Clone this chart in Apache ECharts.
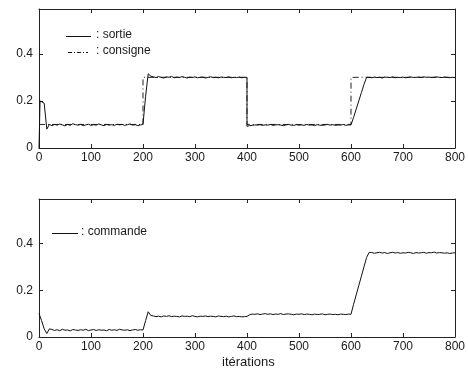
<!DOCTYPE html>
<html><head><meta charset="utf-8">
<script src="https://cdn.jsdelivr.net/npm/echarts@6/dist/echarts.min.js"></script>
<style>html,body{margin:0;padding:0;background:#fff}#c{width:468px;height:374px}</style>
</head><body><div id="c"></div>
<script>
const iterations = [0,5,10,15,20,25,30,35,40,45,50,55,60,65,70,75,80,85,90,95,100,105,110,115,120,125,130,135,140,145,150,155,160,165,170,175,180,185,190,195,200,205,210,215,220,225,230,235,240,245,250,255,260,265,270,275,280,285,290,295,300,305,310,315,320,325,330,335,340,345,350,355,360,365,370,375,380,385,390,395,400,405,410,415,420,425,430,435,440,445,450,455,460,465,470,475,480,485,490,495,500,505,510,515,520,525,530,535,540,545,550,555,560,565,570,575,580,585,590,595,600,605,610,615,620,625,630,635,640,645,650,655,660,665,670,675,680,685,690,695,700,705,710,715,720,725,730,735,740,745,750,755,760,765,770,775,780,785,790,795,800];
// sortie is sampled on the same iterations, plus two extra samples (at 2 and a second one at 400)
const sortieIter = [0,2,5,10,15,20,25,30,35,40,45,50,55,60,65,70,75,80,85,90,95,100,105,110,115,120,125,130,135,140,145,150,155,160,165,170,175,180,185,190,195,200,205,210,215,220,225,230,235,240,245,250,255,260,265,270,275,280,285,290,295,300,305,310,315,320,325,330,335,340,345,350,355,360,365,370,375,380,385,390,395,400,400,405,410,415,420,425,430,435,440,445,450,455,460,465,470,475,480,485,490,495,500,505,510,515,520,525,530,535,540,545,550,555,560,565,570,575,580,585,590,595,600,605,610,615,620,625,630,635,640,645,650,655,660,665,670,675,680,685,690,695,700,705,710,715,720,725,730,735,740,745,750,755,760,765,770,775,780,785,790,795,800];
const sortie = [0,0.2,0.205,0.19,0.08,0.1,
0.095,0.1,0.097,0.102,0.098,0.094,0.1,0.096,0.103,0.099,0.097,0.1,0.095,0.098,0.101,0.096,0.099,0.097,0.102,0.098,0.095,0.1,0.097,0.099,0.096,0.101,0.098,0.1,0.096,0.099,0.102,0.097,0.099,0.095,0.098,
0.1,0.22,0.315,
0.305,0.302,0.299,0.303,0.3,0.297,0.302,0.3,0.304,0.298,0.301,0.299,0.303,0.3,0.297,0.301,0.299,0.302,0.298,0.3,0.301,0.297,0.3,0.302,0.299,0.3,0.298,0.301,0.3,0.299,0.302,0.298,0.3,0.299,0.301,0.298,0.3,
0.3,0.092,0.095,
0.096,0.098,0.097,0.099,0.096,0.098,0.097,0.1,0.096,0.098,0.099,0.097,0.095,0.098,0.1,0.097,0.096,0.099,0.097,0.098,0.096,0.1,0.097,0.098,0.095,0.099,0.097,0.096,0.098,0.1,0.097,0.099,0.096,0.098,0.097,0.1,0.096,0.098,
0.098,0.13,0.165,0.2,0.235,0.27,0.3,
0.3,0.298,0.301,0.299,0.3,0.297,0.301,0.3,0.299,0.302,0.298,0.3,0.299,0.301,0.298,0.3,0.302,0.299,0.3,0.301,0.299,0.302,0.3,0.301,0.299,0.3,0.302,0.3,0.299,0.301,0.3,0.298,0.3,0.299];
const consigneIter = [0,200,200,400,400,600,600,800];
const consigne = [0.1,0.1,0.3,0.3,0.1,0.1,0.3,0.3];
const commande = [0.1,0.07,0.035,0.015,0.035,
0.032,0.028,0.031,0.027,0.033,0.029,0.03,0.026,0.032,0.03,0.028,0.031,0.029,0.033,0.027,0.03,0.032,0.028,0.031,0.029,0.03,0.027,0.032,0.029,0.031,0.028,0.033,0.03,0.029,0.031,0.027,0.03,0.032,0.029,0.031,
0.03,0.07,0.108,
0.092,
0.09,0.087,0.089,0.086,0.09,0.088,0.091,0.087,0.089,0.088,0.086,0.09,0.088,0.089,0.087,0.091,0.088,0.086,0.089,0.088,0.09,0.087,0.089,0.088,0.086,0.09,0.088,0.087,0.089,0.086,0.088,0.09,0.087,0.088,0.086,0.087,
0.088,
0.095,0.098,0.097,0.099,0.096,0.098,0.1,0.097,0.099,0.096,0.098,0.097,0.1,0.096,0.098,0.099,0.097,0.095,0.098,0.097,0.099,0.096,0.098,0.097,0.095,0.098,0.096,0.097,0.099,0.095,0.097,0.098,0.096,0.097,0.095,0.098,0.097,0.096,0.098,
0.097,
0.14,0.18,0.22,0.26,0.3,0.34,
0.362,
0.361,0.358,0.36,0.362,0.359,0.361,0.357,0.36,0.362,0.359,0.361,0.358,0.36,0.359,0.362,0.36,0.357,0.361,0.359,0.36,0.362,0.358,0.361,0.36,0.363,0.359,0.361,0.36,0.358,0.36,0.357,0.359,0.36];
const xTicks = [0,100,200,300,400,500,600,700,800];
const yTicks = [0,0.2,0.4];
const labels = {sortie: ': sortie', consigne: ': consigne', commande: ': commande', xTitle: 'itérations'};

const font = 'Liberation Sans, Arial, sans-serif';
const txt = '#1a1a1a';
function xAx(gi, pos, show) {
  return {type:'value', gridIndex:gi, position:pos, min:0, max:800, interval:100,
    axisLine:{show:true,onZero:false,lineStyle:{color:'#222',width:1}},
    axisTick:{show:true,inside:true,length:4,lineStyle:{color:'#222'}},
    axisLabel:{show:show,color:txt,fontFamily:font,fontSize:12,margin:4},
    splitLine:{show:false}};
}
function yAx(gi, pos, show) {
  return {type:'value', gridIndex:gi, position:pos, min:0, max:0.59,
    axisLine:{show:true,onZero:false,lineStyle:{color:'#222',width:1}},
    axisTick:{show:true,inside:true,length:4,lineStyle:{color:'#222'},
      customValues: yTicks},
    axisLabel:{show:show,color:txt,fontFamily:font,fontSize:12,margin:6,
      customValues: yTicks, formatter: v => (v===0?'0':v.toFixed(1))},
    splitLine:{show:false}};
}
function pairs(xs, ys){ return xs.map((x,i)=>[x, ys[i]]); }
const chart = echarts.init(document.getElementById('c'), null, {renderer:'canvas'});
chart.setOption({
  animation:false,
  backgroundColor:'#fff',
  grid:[{left:39,top:9,width:419,height:139},{left:39,top:199,width:419,height:138}],
  xAxis:[xAx(0,'bottom',true),xAx(0,'top',false),xAx(1,'bottom',true),xAx(1,'top',false)],
  yAxis:[yAx(0,'left',true),yAx(0,'right',false),yAx(1,'left',true),yAx(1,'right',false)],
  series:[
    {type:'line',xAxisIndex:0,yAxisIndex:0,data:pairs(consigneIter,consigne),symbol:'none',
      lineStyle:{color:'#222',width:1,type:[6,3,1,3]}},
    {type:'line',xAxisIndex:0,yAxisIndex:0,data:pairs(sortieIter,sortie),symbol:'none',
      lineStyle:{color:'#111',width:1}},
    {type:'line',xAxisIndex:2,yAxisIndex:2,data:pairs(iterations,commande),symbol:'none',
      lineStyle:{color:'#111',width:1}}
  ],
  graphic:[
    {type:'line',shape:{x1:66,y1:36.5,x2:91,y2:36.5},style:{stroke:'#111',lineWidth:1}},
    {type:'text',left:96,top:29,style:{text:labels.sortie,fill:txt,font:'12px '+font}},
    {type:'line',shape:{x1:68,y1:52.5,x2:88,y2:52.5},style:{stroke:'#111',lineWidth:1,lineDash:[4,2,1,2]}},
    {type:'text',left:96,top:45,style:{text:labels.consigne,fill:txt,font:'12px '+font}},
    {type:'line',shape:{x1:52,y1:233.5,x2:78,y2:233.5},style:{stroke:'#111',lineWidth:1}},
    {type:'text',left:81,top:226,style:{text:labels.commande,fill:txt,font:'12px '+font}},
    {type:'text',left:222,top:356,style:{text:labels.xTitle,fill:txt,font:'13px '+font}}
  ]
});
</script></body></html>
